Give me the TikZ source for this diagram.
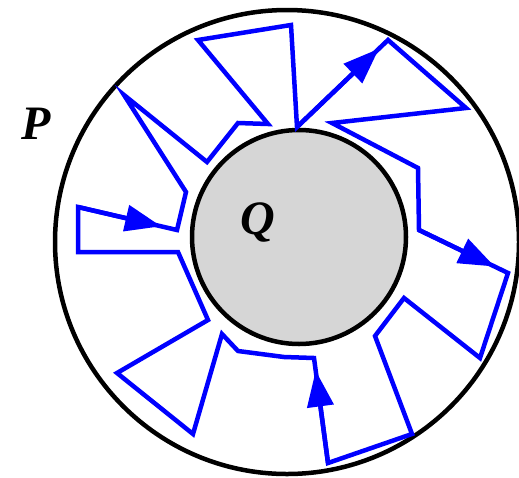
\documentclass[tikz,border=0pt]{standalone}
\usepackage{fontspec}
\setmainfont{Liberation Serif}
\usetikzlibrary{calc,arrows.meta}
\begin{document}
\begin{tikzpicture}[x=1pt,y=-1pt,
  circ/.style={draw=black,line width=4.5pt},
  walk/.style={draw=blue,line width=4.5pt,line join=miter},
  arr/.style={-{Triangle[length=36pt,width=26pt]},draw=blue,line width=4.5pt},
  lbl/.style={font=\fontsize{48}{48}\selectfont\bfseries\itshape}]
\useasboundingbox (0,0) rectangle (519,477);
\coordinate (O) at (287,242);
\coordinate (I) at (299,237);
\draw[circ] (O) circle[radius=232];
\draw[circ,fill=black!16] (I) circle[radius=107];
\coordinate (p1) at (78,207);
\coordinate (p2) at (177,230);
\coordinate (p3) at (186,192);
\coordinate (p4) at (124,95);
\coordinate (p5) at (207,162);
\coordinate (p6) at (238,123);
\coordinate (p7) at (268,124);
\coordinate (p8) at (198,40);
\coordinate (p9) at (291,25);
\coordinate (p10) at (297,127);
\coordinate (p11) at (388,40);
\coordinate (p12) at (466,108);
\coordinate (p13) at (332,123);
\coordinate (p14) at (418,168);
\coordinate (p15) at (419,230);
\coordinate (p16) at (508,273);
\coordinate (p17) at (480,358);
\coordinate (p18) at (404,298);
\coordinate (p19) at (375,336);
\coordinate (p20) at (412,434);
\coordinate (p21) at (328,463);
\coordinate (p22) at (314,358);
\coordinate (p23) at (284,357);
\coordinate (p24) at (238,351);
\coordinate (p25) at (222,334);
\coordinate (p26) at (193,434);
\coordinate (p27) at (117,373);
\coordinate (p28) at (208,320);
\coordinate (p29) at (178,252);
\coordinate (p30) at (78,252);
\draw[walk] (p1) -- (p2) -- (p3) -- (p4) -- (p5) -- (p6) -- (p7) -- (p8) -- (p9) -- (p10) -- (p11) -- (p12) -- (p13) -- (p14) -- (p15) -- (p16) -- (p17) -- (p18) -- (p19) -- (p20) -- (p21) -- (p22) -- (p23) -- (p24) -- (p25) -- (p26) -- (p27) -- (p28) -- (p29) -- (p30) -- cycle;
\draw[arr] (p1) -- ($(p1)!0.84!(p2)$);
\draw[arr] (p10) -- ($(p10)!0.9!(p11)$);
\draw[arr] (p15) -- ($(p15)!0.85!(p16)$);
\draw[arr] (p21) -- ($(p21)!0.88!(p22)$);
\node[lbl] (P) at (36,124) {P};
\node[lbl] (Q) at (258,222) {Q};
\end{tikzpicture}
\end{document}
